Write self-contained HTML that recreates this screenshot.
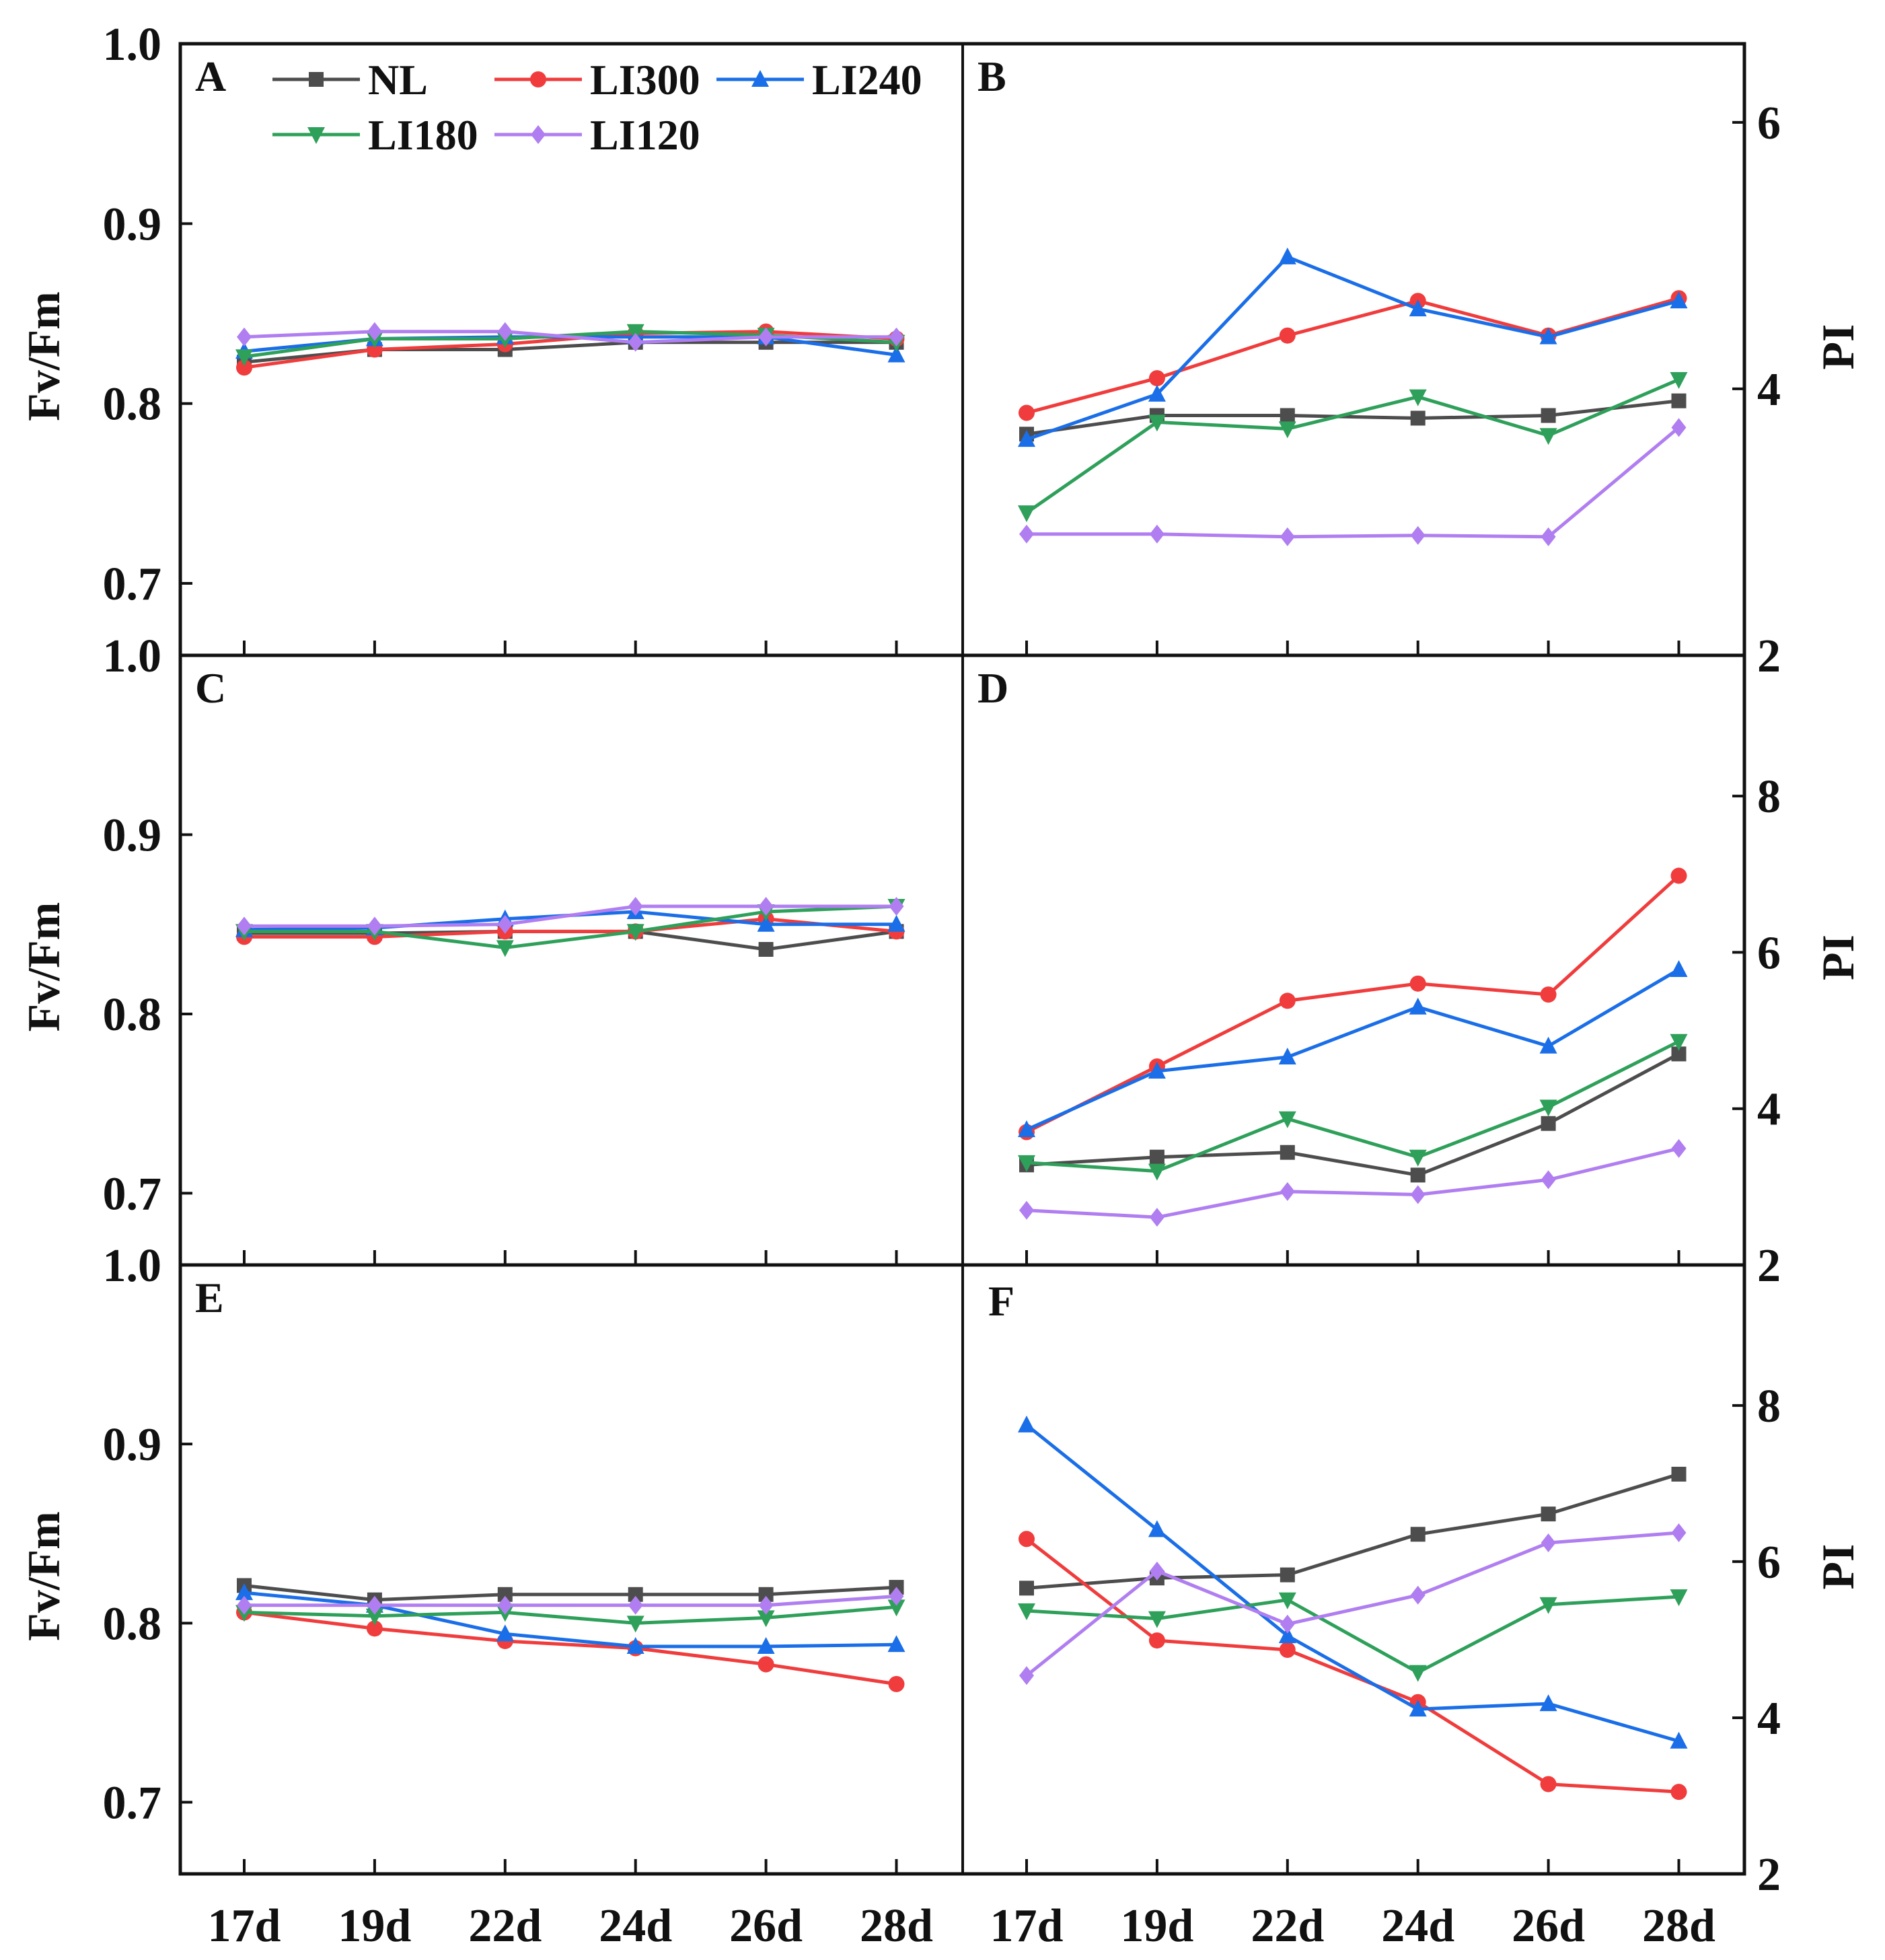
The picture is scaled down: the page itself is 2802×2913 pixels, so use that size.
<!DOCTYPE html>
<html><head><meta charset="utf-8"><style>
html,body{margin:0;padding:0;background:#fff}
svg{display:block}
text{font-family:"Liberation Serif",serif;font-weight:bold;fill:#111}
</style></head><body>
<svg id="chart" width="2802" height="2913" viewBox="0 0 2802 2913" xmlns="http://www.w3.org/2000/svg">
<g id="series"></g>
<g id="axes"></g>
</svg>
<script>
const days = ["17d","19d","22d","24d","26d","28d"];
const seriesNames = ["NL","LI300","LI240","LI180","LI120"];
const fvTicks = ["1.0","0.9","0.8","0.7"];
const piTicksTop = ["2","4","6"];
const piTicksLow = ["2","4","6","8"];
// Panel A (Fv/Fm)
const A_NL=[0.823,0.830,0.830,0.834,0.834,0.834];
const A_LI300=[0.820,0.830,0.833,0.839,0.840,0.836];
const A_LI240=[0.829,0.836,0.837,0.837,0.837,0.827];
const A_LI180=[0.826,0.836,0.836,0.840,0.838,0.834];
const A_LI120=[0.837,0.840,0.840,0.834,0.837,0.837];
// Panel B (PI)
const B_NL=[3.66,3.80,3.80,3.78,3.80,3.91];
const B_LI300=[3.82,4.08,4.40,4.66,4.40,4.68];
const B_LI240=[3.62,3.96,4.99,4.60,4.39,4.66];
const B_LI180=[3.07,3.75,3.70,3.94,3.65,4.07];
const B_LI120=[2.91,2.91,2.89,2.90,2.89,3.71];
// Panel C
const C_NL=[0.845,0.845,0.846,0.846,0.836,0.846];
const C_LI300=[0.843,0.843,0.846,0.846,0.853,0.846];
const C_LI240=[0.847,0.848,0.853,0.857,0.850,0.850];
const C_LI180=[0.846,0.846,0.837,0.846,0.857,0.860];
const C_LI120=[0.849,0.849,0.850,0.860,0.860,0.860];
// Panel D
const D_NL=[3.28,3.38,3.44,3.15,3.81,4.70];
const D_LI300=[3.70,4.54,5.38,5.60,5.46,6.98];
const D_LI240=[3.73,4.48,4.66,5.30,4.80,5.78];
const D_LI180=[3.31,3.20,3.87,3.38,4.02,4.86];
const D_LI120=[2.70,2.61,2.94,2.90,3.09,3.49];
// Panel E
const E_NL=[0.821,0.813,0.816,0.816,0.816,0.820];
const E_LI300=[0.806,0.797,0.790,0.786,0.777,0.766];
const E_LI240=[0.817,0.810,0.794,0.787,0.787,0.788];
const E_LI180=[0.806,0.804,0.806,0.800,0.803,0.809];
const E_LI120=[0.810,0.810,0.810,0.810,0.810,0.815];
// Panel F
const F_NL=[5.66,5.79,5.83,6.35,6.61,7.12];
const F_LI300=[6.29,4.99,4.87,4.20,3.15,3.05];
const F_LI240=[7.75,6.41,5.05,4.11,4.18,3.70];
const F_LI180=[5.37,5.27,5.51,4.58,5.45,5.55];
const F_LI120=[4.54,5.88,5.20,5.57,6.24,6.37];

const colors=["#4d4d4d","#f03c3c","#1a6ee8","#2ea05a","#b07ef0"];
const markers=["square","circle","up","down","diamond"];
const NS="http://www.w3.org/2000/svg";
const svg=document.getElementById('chart');
const gS=document.getElementById('series');
const gA=document.getElementById('axes');
const L=268,M=1431,R=2593;
const rows=[65,974,1880,2785];
function mk(tag,attrs,parent){const e=document.createElementNS(NS,tag);for(const k in attrs)e.setAttribute(k,attrs[k]);parent.appendChild(e);return e;}
function xPos(left,i){return left+95+i*193.9;}
function yFv(top,bot,v){return bot-(v-0.66)/(1.0-0.66)*(bot-top);}
function yPI(top,bot,v,max){return bot-(v-2)/(max-2)*(bot-top);}
function marker(parent,type,x,y,c){
  const s=11;let el;
  if(type==="square") el=mk('rect',{x:x-s,y:y-s,width:2*s,height:2*s,fill:c},parent);
  else if(type==="circle") el=mk('circle',{cx:x,cy:y,r:s+1,fill:c},parent);
  else if(type==="up") el=mk('polygon',{points:`${x},${y-s-3} ${x+s+2},${y+s} ${x-s-2},${y+s}`,fill:c},parent);
  else if(type==="down") el=mk('polygon',{points:`${x},${y+s+3} ${x+s+2},${y-s} ${x-s-2},${y-s}`,fill:c},parent);
  else el=mk('polygon',{points:`${x},${y-s-3} ${x+s},${y} ${x},${y+s+3} ${x-s},${y}`,fill:c},parent);
  return el;
}
const panels=[
 {id:"a",left:L,row:0,type:"fv",data:[A_NL,A_LI300,A_LI240,A_LI180,A_LI120]},
 {id:"b",left:M,row:0,type:"pi",max:6.59,data:[B_NL,B_LI300,B_LI240,B_LI180,B_LI120]},
 {id:"c",left:L,row:1,type:"fv",data:[C_NL,C_LI300,C_LI240,C_LI180,C_LI120]},
 {id:"d",left:M,row:1,type:"pi",max:9.8,data:[D_NL,D_LI300,D_LI240,D_LI180,D_LI120]},
 {id:"e",left:L,row:2,type:"fv",data:[E_NL,E_LI300,E_LI240,E_LI180,E_LI120]},
 {id:"f",left:M,row:2,type:"pi",max:9.8,data:[F_NL,F_LI300,F_LI240,F_LI180,F_LI120]}
];
panels.forEach(p=>{
  const top=rows[p.row],bot=rows[p.row+1];
  const g=mk('g',{},gS);
  
  
  p.data.forEach((arr,si)=>{
    const yf=v=>p.type==="fv"?yFv(top,bot,v):yPI(top,bot,v,p.max);
    const pts=arr.map((v,i)=>xPos(p.left,i)+","+yf(v)).join(" ");
    const sg=mk('g',{},g);
    
    
    const pl=mk('polyline',{points:pts,fill:"none",stroke:colors[si],"stroke-width":5,"stroke-linejoin":"round"},sg);
    
    
    arr.forEach((v,i)=>{
      const m=marker(sg,markers[si],xPos(p.left,i),yf(v),colors[si]);
      
      
    });
  });
  // x ticks
  days.forEach((d,i)=>{
    const t=mk('line',{x1:xPos(p.left,i),x2:xPos(p.left,i),y1:bot,y2:bot-22,stroke:"#111","stroke-width":4},gA);
    
    
  });
  // panel letter
  const lt=mk('text',{x:p.left+(p.id==="f"?38:22),y:top+(p.id==="f"?75:70),"font-size":64},gA);
  lt.textContent=p.id.toUpperCase();
  
  
  if(p.type==="fv"){
    fvTicks.forEach(s=>{
      const v=parseFloat(s),y=yFv(top,bot,v);
      const tk=mk('line',{x1:L,x2:L+18,y1:y,y2:y,stroke:"#111","stroke-width":4},gA);
      
      
      const tx=mk('text',{x:240,y:y+24,"font-size":70,"text-anchor":"end"},gA);
      tx.textContent=s;
      
      
    });
    const yt=mk('text',{x:0,y:0,"font-size":68,"text-anchor":"middle",transform:`translate(88,${(top+bot)/2+10}) rotate(-90)`},gA);
    yt.textContent="Fv/Fm";
    
    
  } else {
    const tl=p.row===0?piTicksTop:piTicksLow;
    tl.forEach(s=>{
      const y=yPI(top,bot,parseFloat(s),p.max);
      const tk=mk('line',{x1:R,x2:R-18,y1:y,y2:y,stroke:"#111","stroke-width":4},gA);
      
      
      const tx=mk('text',{x:2612,y:y+24,"font-size":70},gA);
      tx.textContent=s;
      
      
    });
    const yt=mk('text',{x:0,y:0,"font-size":68,"text-anchor":"middle",transform:`translate(2755,${(top+bot)/2-4}) rotate(-90)`},gA);
    yt.textContent="PI";
    
    
  }
  if(p.row===2){
    days.forEach((d,i)=>{
      const tx=mk('text',{x:xPos(p.left,i),y:2885,"font-size":70,"text-anchor":"middle"},gA);
      tx.textContent=d;
      
      
    });
  }
});
// frames
const fr=mk('rect',{x:L,y:rows[0],width:R-L,height:rows[3]-rows[0],fill:"none",stroke:"#111","stroke-width":5},gA);


const vl=mk('line',{x1:M,x2:M,y1:rows[0],y2:rows[3],stroke:"#111","stroke-width":4},gA);


[1,2].forEach(r=>{
  const hl=mk('line',{x1:L,x2:R,y1:rows[r],y2:rows[r],stroke:"#111","stroke-width":5},gA);
  
  
});
// legend
const legPos=[[405,118],[735,118],[1065,118],[405,200],[735,200]];
seriesNames.forEach((n,i)=>{
  const [x,y]=legPos[i];
  const g=mk('g',{},gA);
  
  
  mk('line',{x1:x,x2:x+130,y1:y,y2:y,stroke:colors[i],"stroke-width":5},g);
  marker(g,markers[i],x+65,y,colors[i]);
  const t=mk('text',{x:x+142,y:y+22,"font-size":64},g);
  t.textContent=n;
});
</script>
</body></html>
